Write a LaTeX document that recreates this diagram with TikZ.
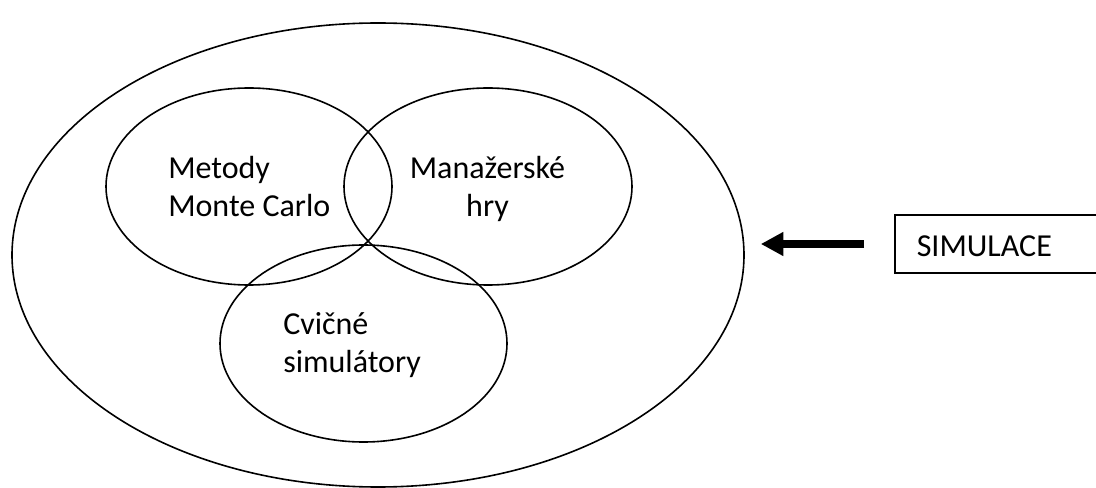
\documentclass[tikz,border=0pt]{standalone}
\usepackage{fontspec}
\setmainfont{Carlito}
\usetikzlibrary{shapes.geometric,arrows.meta}
\tikzset{
  oval/.style={draw,ellipse,inner sep=0pt,line width=1.2pt},
  ovaltext/.style={inner sep=0pt,font=\fontsize{24pt}{28.5pt}\selectfont},
  tagbox/.style={draw,rectangle,line width=1.2pt,anchor=west,
    minimum width=154.5pt,minimum height=43.5pt,inner xsep=16.5pt,inner ysep=0pt,
    text width=121.5pt,align=left,text height=19.5pt,text depth=0pt,
    font=\fontsize{24pt}{28.5pt}\selectfont},
  bigarrow/.style={line width=5.6pt,-{Triangle[length=17pt,width=17pt]},
    shorten <=22.5pt,shorten >=12pt},
}
\begin{document}
\begin{tikzpicture}[x=0.75pt,y=-0.75pt]
\useasboundingbox (0,0) rectangle (1096,488);
% outer oval
\node[oval,minimum width=549pt,minimum height=348pt] (simulace) at (378,255) {};
% inner ovals
\node[oval,minimum width=214.5pt,minimum height=147.75pt] (montecarlo) at (249,186.5) {};
\node[oval,minimum width=216pt,minimum height=147.75pt] (hry) at (488,186.5) {};
\node[oval,minimum width=215.25pt,minimum height=147.75pt] (simulatory) at (363.5,343.5) {};
% texts (base = last line)
\node[ovaltext,anchor=base west,align=left] (montecarlotext) at (168,217) {Metody\\Monte Carlo};
\node[ovaltext,anchor=base,align=center] (hrytext) at (487.5,217) {Manažerské\\hry};
\node[ovaltext,anchor=base west,align=left] (simulatorytext) at (283,373) {Cvičné\\simulátory};
% tag and arrow
\node[tagbox] (tag) at (894,244) {SIMULACE};
\draw[bigarrow] (tag.west) -- (tag.west -| simulace.east);
\end{tikzpicture}
\end{document}
